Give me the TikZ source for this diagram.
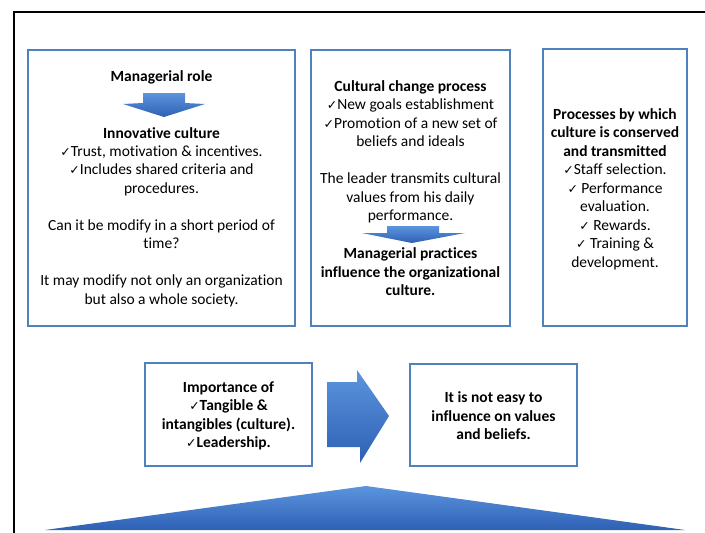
\documentclass[tikz,border=0pt]{standalone}
\usepackage{fontspec}
\setmainfont{Carlito}[Ligatures=NoCommon]
\newfontfamily\symfont{DejaVu Sans}
\newcommand{\ck}{{\symfont\fontsize{12.5}{12.5}\selectfont ✓}}
\definecolor{boxblue}{RGB}{79,129,189}
\definecolor{arrtop}{RGB}{92,148,222}
\definecolor{arrbot}{RGB}{46,96,180}
\tikzset{
  panel/.style={draw=boxblue, line width=1.6pt, fill=white, inner sep=0pt},
  txt/.style={align=center, inner sep=0pt, font=\fontsize{15.5}{18.5}\selectfont},
  btxt/.style={txt, font=\fontsize{15.5}{18.5}\selectfont\bfseries},
  blockarrow/.style={top color=arrtop, bottom color=arrbot, draw=none}
}
\begin{document}
\begin{tikzpicture}[x=1pt,y=-1pt]
\useasboundingbox (0,0) rectangle (705,533);
\fill[white] (0,0) rectangle (705,533);
\draw[line width=1.6pt] (14,533) -- (14,12) -- (705,12);

% panels
\node[panel, minimum width=267pt, minimum height=276pt] (b1) at (161.5,188) {};
\node[panel, minimum width=199pt, minimum height=276pt] (b2) at (410.5,188) {};
\node[panel, minimum width=144pt, minimum height=277pt] (b3) at (615,187.5) {};
\node[panel, minimum width=167pt, minimum height=103pt] (b4) at (228.5,414.5) {};
\node[panel, minimum width=167pt, minimum height=102pt] (b5) at (493.5,415) {};

% box 1
\node[btxt] (t1a) at (161.5,77.5) {Managerial role};
\shade[blockarrow] (143,93) -- (185,93) -- (185,103) -- (205,104) -- (164,117) -- (123,104) -- (143,103) -- cycle;
\node[btxt, anchor=north] (t1b) at (161.5,127) {Innovative culture};
\node[txt, anchor=north] (t1c) at (161.5,145.5) {\ck Trust, motivation \& incentives.\\ \ck Includes shared criteria and\\ procedures.\\[18.5pt] Can it be modify in a short period of\\ time?\\[18.5pt] It may modify not only an organization\\ but also a whole society.};

% box 2
\node[btxt, anchor=north] (t2a) at (410.5,80.5) {Cultural change process};
\node[txt, anchor=north] (t2b) at (410.5,99) {\ck New goals establishment\\ \ck Promotion of a new set of\\ beliefs and ideals\\[18.5pt] The leader transmits cultural\\ values from his daily\\ performance.};
\shade[blockarrow] (387,226) -- (439,226) -- (439,233) -- (465,233) -- (412,243) -- (362,233) -- (387,233) -- cycle;
\node[btxt, anchor=north] (t2c) at (410.5,247.5) {Managerial practices\\ influence the organizational\\ culture.};

% box 3
\node[txt, anchor=north] (t3) at (615,108) {\textbf{Processes by which}\\ \textbf{culture is conserved}\\ \textbf{and transmitted}\\ \ck Staff selection.\\ \ck{} Performance\\ evaluation.\\ \ck{} Rewards.\\ \ck{} Training \&\\ development.};

% box 4
\node[btxt, anchor=north] (t4) at (228.5,381.5) {Importance of\\ \ck Tangible \&\\ intangibles (culture).\\ \ck Leadership.};

% box 5
\node[btxt, anchor=north] (t5) at (493.5,391.5) {It is not easy to\\ influence on values\\ and beliefs.};

% right arrow
\shade[blockarrow] (327,382) -- (357,382) -- (357,370) -- (389,416) -- (360,463) -- (360,447) -- (327,447) -- cycle;

% base triangle
\shade[top color=arrtop, bottom color=arrbot] (45,530) -- (366,486) -- (685,530) -- cycle;
\end{tikzpicture}
\end{document}
